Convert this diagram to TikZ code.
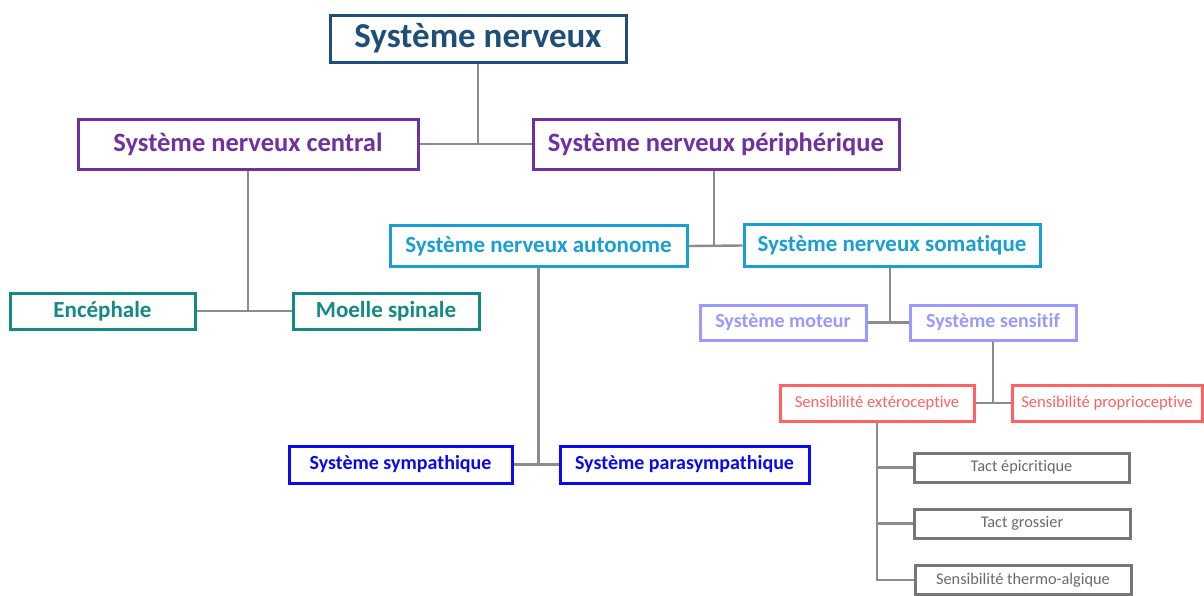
\documentclass[tikz,border=0pt]{standalone}
\usepackage{fontspec}
\setmainfont[Ligatures=NoCommon]{Carlito}
\definecolor{cTop}{HTML}{1F4E79}
\definecolor{cPur}{HTML}{7030A0}
\definecolor{cCya}{HTML}{18A0D2}
\definecolor{cTea}{HTML}{138A84}
\definecolor{cPer}{HTML}{9999FF}
\definecolor{cRed}{HTML}{FF6262}
\definecolor{cBlu}{HTML}{0A0AF0}
\definecolor{cGry}{HTML}{767676}
\definecolor{cTxt}{HTML}{6A6A6A}
\definecolor{cLin}{HTML}{8C8C8C}
\tikzset{
  box/.style={draw, fill=white, line width=3pt, inner sep=0pt, align=center},
  lvlA/.style={box, draw=cTop, text=cTop, font=\fontsize{35}{35}\selectfont\bfseries},
  lvlB/.style={box, draw=cPur, text=cPur, font=\fontsize{26.5}{26.5}\selectfont\bfseries},
  lvlC/.style={box, draw=cCya, text=cCya, font=\fontsize{23}{23}\selectfont\bfseries},
  lvlT/.style={box, draw=cTea, text=cTea, font=\fontsize{23}{23}\selectfont\bfseries},
  lvlD/.style={box, draw=cPer, text=cPer, font=\fontsize{20}{20}\selectfont\bfseries},
  lvlS/.style={box, draw=cBlu, text=cBlu, font=\fontsize{20}{20}\selectfont\bfseries},
  lvlE/.style={box, draw=cRed, text=cRed, font=\fontsize{16.6}{16.6}\selectfont},
  lvlF/.style={box, draw=cGry, text=cTxt, font=\fontsize{16.3}{16.3}\selectfont},
  link/.style={draw=cLin, line width=2.4pt},
}
\begin{document}
\begin{tikzpicture}[x=1pt,y=-1pt]
\useasboundingbox (0,0) rectangle (1204,595);
% nodes
\node[lvlA, minimum width=296, minimum height=47] (sn) at (478,38.5) {Système nerveux};
\node[lvlB, minimum width=340, minimum height=50] (snc) at (248,144) {Système nerveux central};
\node[lvlB, minimum width=366, minimum height=50] (snp) at (716,144) {Système nerveux périphérique};
\node[lvlC, minimum width=297, minimum height=41] (sna) at (538.5,246) {Système nerveux autonome};
\node[lvlC, minimum width=296, minimum height=42] (sns) at (892,245.5) {Système nerveux somatique};
\node[lvlT, minimum width=185, minimum height=36] (enc) at (102.5,311) {Encéphale};
\node[lvlT, minimum width=186, minimum height=36] (moe) at (386,311) {Moelle spinale};
\node[lvlD, minimum width=166, minimum height=35] (mot) at (783,322.5) {Système moteur};
\node[lvlD, minimum width=166, minimum height=35] (sen) at (993,322.5) {Système sensitif};
\node[lvlE, minimum width=194, minimum height=36] (ext) at (877,403) {Sensibilité extéroceptive};
\node[lvlE, minimum width=190, minimum height=36] (pro) at (1107,403) {Sensibilité proprioceptive};
\node[lvlS, minimum width=223, minimum height=37] (sym) at (400.5,464.5) {Système sympathique};
\node[lvlS, minimum width=249, minimum height=37] (par) at (684.5,464.5) {Système parasympathique};
\node[lvlF, minimum width=215, minimum height=29] (tep) at (1021.5,467.5) {Tact épicritique};
\node[lvlF, minimum width=216, minimum height=29] (tgr) at (1022,523.5) {Tact grossier};
\node[lvlF, minimum width=216, minimum height=29] (tha) at (1023,580) {Sensibilité thermo-algique};
% connectors
\coordinate (j1) at (sn.south |- snc.east);
\draw[link] (snc.east) -- (snp.west);
\draw[link] (sn.south) -- (j1);
\coordinate (j2) at ([xshift=-2pt]snp.south |- sna.east);
\draw[link] (sna.east) -- (sns.west);
\draw[link] ([xshift=-2pt]snp.south) -- (j2);
\coordinate (j3) at (snc.south |- enc.east);
\draw[link] (enc.east) -- (moe.west);
\draw[link] (snc.south) -- (j3);
\coordinate (j4) at ([xshift=-2pt]sns.south |- mot.east);
\draw[link] (mot.east) -- (sen.west);
\draw[link] ([xshift=-2pt]sns.south) -- (j4);
\coordinate (j5) at (sen.south |- ext.east);
\draw[link] (ext.east) -- (pro.west);
\draw[link] (sen.south) -- (j5);
\coordinate (j6) at (sna.south |- sym.east);
\draw[link] (sym.east) -- (par.west);
\draw[link] (sna.south) -- (j6);
\coordinate (j7) at (ext.south |- tha.west);
\draw[link] (ext.south) -- (j7) -- (tha.west);
\draw[link] (ext.south |- tep.west) -- (tep.west);
\draw[link] (ext.south |- tgr.west) -- (tgr.west);
\end{tikzpicture}
\end{document}
